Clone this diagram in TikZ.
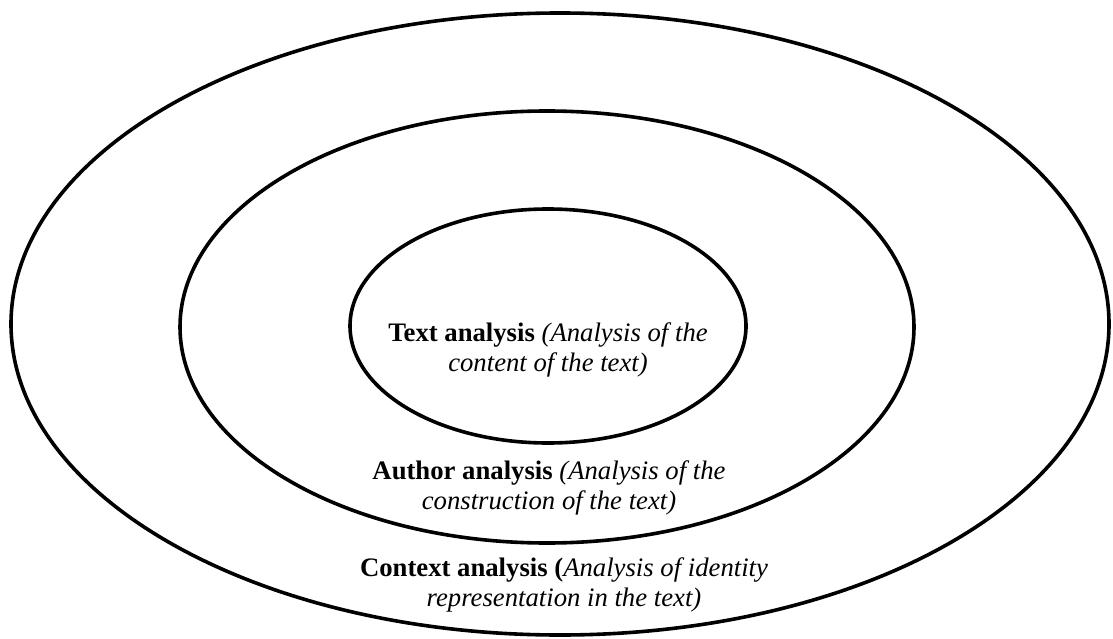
\documentclass[tikz,border=0pt]{standalone}
\usepackage{fontspec}
\setmainfont{Liberation Serif}
\usetikzlibrary{shapes.geometric}
\usetikzlibrary{positioning}

\begin{document}
\begin{tikzpicture}[x=1pt,y=-1pt, ring/.style={draw, ellipse, line width=3.6pt,
		inner sep=0pt}, lbl/.style={align=center, inner sep=0pt,
		font=\fontsize{26.7}{29.5}\selectfont}]
	\useasboundingbox (0,0) rectangle (1113,639);
	\node [ring, minimum width=1098pt, minimum height=622pt] (outer) at (560,324) {};
	\node [ring, minimum width=734pt, minimum height=432pt] (middle) at (547,327) {};
	\node [ring, minimum width=396pt, minimum height=234pt] (inner) at (548,326) {};
	\node [lbl] (textlbl) at (548,350) {\textbf{Text analysis} \textit{(Analysis of the}\\ \textit{content of the text)}};
	\node [lbl] (authorlbl) at (549,488) {\textbf{Author analysis} \textit{(Analysis of the}\\ \textit{construction of the text)}};
	\node [lbl] (contextlbl) at (564,585) {\textbf{Context analysis (}\textit{Analysis of identity}\\ \textit{representation in the text)}};
	\end{tikzpicture}
\end{document}
